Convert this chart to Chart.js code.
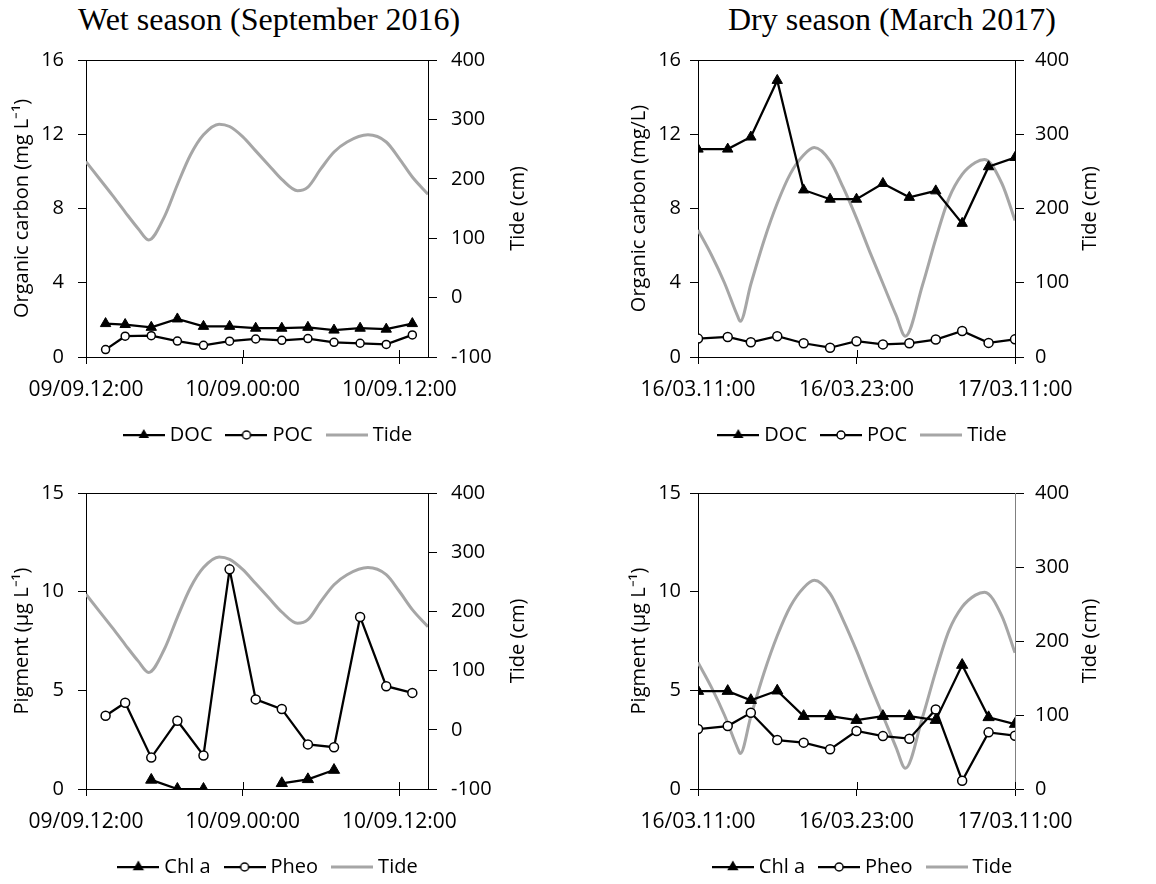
<!DOCTYPE html>
<html>
<head>
<meta charset="utf-8">
<script src="https://cdn.jsdelivr.net/npm/chart.js@4.4.1/dist/chart.umd.min.js"></script>
<style>
  body { margin: 0; background: #fff; width: 1156px; height: 884px; position: relative; overflow: hidden; }
  .season { position: absolute; top: 3px; font-family: "Liberation Serif", "Times New Roman", serif; font-size: 32px; line-height: 32px; color: #000; white-space: nowrap; }
  canvas { position: absolute; }
</style>
</head>
<body>
<div class="season" style="left:78px">Wet season (September 2016)</div>
<div class="season" style="left:728px">Dry season (March 2017)</div>

<canvas id="wetCarbon" width="528" height="421" style="left:6px;top:34px"></canvas>
<canvas id="dryCarbon" width="483" height="418" style="left:623px;top:37px"></canvas>
<canvas id="wetPigment" width="528" height="420" style="left:6px;top:467px"></canvas>
<canvas id="dryPigment" width="483" height="417" style="left:623px;top:470px"></canvas>

<script>
// sampling times, hours after the first x tick
const wetHours = [1.5, 3, 5, 7, 9, 11, 13, 15, 17, 19, 21, 23, 25];
const dryHours = [0, 2.25, 4, 6, 8, 10, 12, 14, 16, 18, 20, 22, 24];

// organic carbon (mg/L)
const wetDoc = [1.8, 1.75, 1.6, 2.05, 1.65, 1.65, 1.55, 1.55, 1.6, 1.45, 1.55, 1.5, 1.8];
const wetPoc = [0.4, 1.12, 1.15, 0.86, 0.63, 0.85, 0.97, 0.9, 0.99, 0.79, 0.74, 0.68, 1.19];
const dryDoc = [11.2, 11.2, 11.85, 14.9, 9.0, 8.5, 8.5, 9.35, 8.6, 8.95, 7.2, 10.25, 10.75];
const dryPoc = [0.99, 1.08, 0.79, 1.12, 0.74, 0.5, 0.85, 0.68, 0.74, 0.94, 1.4, 0.76, 0.95];

// pigments (ug/L)
const wetChl = [null, null, 0.46, 0, 0, null, null, 0.29, 0.49, 0.96, null, null, null];
const wetPheo = [3.71, 4.37, 1.59, 3.46, 1.7, 11.13, 4.54, 4.05, 2.26, 2.12, 8.72, 5.21, 4.87];
const dryChl = [4.96, 4.96, 4.5, 4.98, 3.69, 3.69, 3.49, 3.69, 3.69, 3.49, 6.28, 3.63, 3.29];
const dryPheo = [3.04, 3.19, 3.86, 2.48, 2.35, 2.01, 2.94, 2.68, 2.55, 4.03, 0.42, 2.87, 2.7];

// tide level (cm)
const wetTideHours = [0, 1, 2, 3, 4, 4.8, 6, 7, 8, 9, 10.2, 11, 12, 13, 14, 15, 16.2, 17, 18, 19, 20, 21.6, 23, 24, 25, 26.2];
const wetTide = [229, 201, 173, 144, 116, 97, 136, 190, 240, 274, 292, 288, 271, 247, 223, 199, 180, 186, 217, 245, 262, 274, 262, 234, 203, 174];
const dryTideHours = [0, 1, 2, 3, 3.2, 4, 5, 6, 7, 8, 8.8, 10, 11, 12, 13, 14, 15, 15.7, 17, 18, 19, 20, 21, 21.7, 23, 24];
const dryTide = [171, 138, 100, 55, 48, 98, 157, 207, 247, 272, 282, 264, 228, 187, 142, 99, 56, 28, 97, 159, 214, 246, 262, 266, 234, 184];

// x axis ticks
const wetTickHours = [0, 12, 24];
const wetTickLabels = ['09/09.12:00', '10/09.00:00', '10/09.12:00'];
const dryTickHours = [0, 12, 24];
const dryTickLabels = ['16/03.11:00', '16/03.23:00', '17/03.11:00'];

const TIDE_GREY = '#a6a6a6';
Chart.defaults.font.family = '"Open Sans", sans-serif';
Chart.defaults.font.size = 20;
Chart.defaults.color = '#000';

const pairs = (xs, ys) => xs.map((x, i) => ({ x: x, y: ys[i] }));

// little line-with-marker image used as the legend symbol
function swatch(kind, color, lineWidth, r) {
  const c = document.createElement('canvas');
  c.width = 42;
  c.height = 16;
  const g = c.getContext('2d');
  g.strokeStyle = color;
  g.lineWidth = lineWidth;
  g.beginPath();
  g.moveTo(0, 8);
  g.lineTo(42, 8);
  g.stroke();
  g.lineWidth = 1.5;
  if (kind === 'triangle') {
    g.fillStyle = '#000';
    g.beginPath();
    g.moveTo(21, 8 - r);
    g.lineTo(21 + r * 0.866, 8 + r / 2);
    g.lineTo(21 - r * 0.866, 8 + r / 2);
    g.closePath();
    g.fill();
  } else if (kind === 'circle') {
    g.fillStyle = '#fff';
    g.beginPath();
    g.arc(21, 8, r, 0, Math.PI * 2);
    g.fill();
    g.stroke();
  }
  return c;
}

// inner half of the x ticks and the rotated right-hand axis title
const frameExtras = {
  id: 'frameExtras',
  afterDraw(chart, args, opts) {
    const { ctx, chartArea, scales } = chart;
    ctx.save();
    ctx.strokeStyle = '#000';
    ctx.lineWidth = 1;
    scales.x.ticks.forEach((t) => {
      const px = Math.round(scales.x.getPixelForValue(t.value)) + 0.5;
      ctx.beginPath();
      ctx.moveTo(px, chartArea.bottom);
      ctx.lineTo(px, chartArea.bottom - 7);
      ctx.stroke();
    });
    const s = scales.tide;
    ctx.translate(s.right - 16, (chartArea.top + chartArea.bottom) / 2);
    ctx.rotate(-Math.PI / 2);
    ctx.font = '20px "Open Sans", sans-serif';
    ctx.fillStyle = '#000';
    ctx.textAlign = 'center';
    ctx.textBaseline = 'middle';
    ctx.fillText(opts.rightTitle, 0, 0);
    ctx.restore();
  }
};

function buildPanel(id, p) {
  const datasets = [
    {
      label: p.names[0],
      data: pairs(p.hours, p.first),
      borderColor: '#000',
      backgroundColor: '#000',
      borderWidth: 2.25,
      pointStyle: 'triangle',
      pointRadius: p.tri,
      pointBorderWidth: 1,
      spanGaps: false,
      legendSwatch: swatch('triangle', '#000', 2.25, p.tri)
    },
    {
      label: p.names[1],
      data: pairs(p.hours, p.second),
      borderColor: '#000',
      backgroundColor: '#fff',
      borderWidth: 2.25,
      pointStyle: 'circle',
      pointRadius: p.circ,
      pointBorderWidth: 1.5,
      legendSwatch: swatch('circle', '#000', 2.25, 4)
    },
    {
      label: 'Tide',
      data: pairs(p.tideHours, p.tide),
      yAxisID: 'tide',
      borderColor: TIDE_GREY,
      borderWidth: 3,
      pointRadius: 0,
      cubicInterpolationMode: 'monotone',
      legendSwatch: swatch('line', TIDE_GREY, 3, 0)
    }
  ];

  new Chart(document.getElementById(id), {
    type: 'line',
    data: { datasets: datasets },
    options: {
      responsive: false,
      animation: false,
      devicePixelRatio: 1,
      events: [],
      layout: { padding: 0 },
      plugins: {
        tooltip: { enabled: false },
        frameExtras: { rightTitle: 'Tide (cm)' },
        legend: {
          position: 'bottom',
          labels: {
            usePointStyle: true,
            pointStyleWidth: 32,
            padding: 18,
            font: { size: 20 },
            generateLabels: (chart) => chart.data.datasets.map((ds, i) => ({
              text: ds.label,
              pointStyle: ds.legendSwatch,
              datasetIndex: i,
              hidden: false,
              lineWidth: 0,
              fillStyle: 'transparent',
              strokeStyle: 'transparent',
              fontColor: '#000'
            }))
          }
        }
      },
      scales: {
        x: {
          type: 'linear',
          min: 0,
          max: p.xMax,
          afterBuildTicks: (s) => { s.ticks = p.tickHours.map((v) => ({ value: v })); },
          afterFit: (s) => { s.height = 50; },
          ticks: {
            autoSkip: false,
            maxRotation: 0,
            padding: 13,
            font: { size: 21 },
            callback: (v, i) => p.tickLabels[i]
          },
          grid: { drawOnChartArea: false, color: 'transparent', tickColor: '#000', tickLength: 7 },
          border: { color: '#000', width: 1 }
        },
        y: {
          position: 'left',
          min: 0,
          max: p.yMax,
          afterFit: (s) => { s.width = p.leftWidth; },
          ticks: { stepSize: p.yStep, padding: p.leftPad },
          grid: {
            color: (c) => (c.tick && c.tick.value === p.yMax ? '#000' : 'transparent'),
            tickColor: '#000',
            tickLength: 8
          },
          border: { color: '#000', width: 1 },
          title: { display: true, text: p.yTitle, font: { size: 20 }, padding: { top: 4, bottom: 0 } }
        },
        tide: {
          position: 'right',
          min: p.tideMin,
          max: 400,
          afterFit: (s) => { s.width = p.rightWidth; },
          ticks: { stepSize: 100, padding: p.rightPad },
          grid: { drawOnChartArea: false, tickColor: '#000', tickLength: 9 },
          border: { color: p.rightBorder, width: 1 }
        }
      }
    },
    plugins: [frameExtras]
  });
}

const wetFrame = { hours: wetHours, tideHours: wetTideHours, tide: wetTide, xMax: 26.2,
  tickHours: wetTickHours, tickLabels: wetTickLabels, leftWidth: 80, rightWidth: 106,
  leftPad: 14, rightPad: 14, tideMin: -100, rightBorder: '#000' };
const dryFrame = { hours: dryHours, tideHours: dryTideHours, tide: dryTide, xMax: 24,
  tickHours: dryTickHours, tickLabels: dryTickLabels, leftWidth: 75, rightWidth: 91,
  leftPad: 9, rightPad: 11, tideMin: 0, rightBorder: '#000' };

buildPanel('wetCarbon', Object.assign({}, wetFrame, {
  names: ['DOC', 'POC'], first: wetDoc, second: wetPoc, yMax: 16, yStep: 4,
  yTitle: 'Organic carbon (mg L⁻¹)', tri: 6, circ: 4
}));
buildPanel('dryCarbon', Object.assign({}, dryFrame, {
  names: ['DOC', 'POC'], first: dryDoc, second: dryPoc, yMax: 16, yStep: 4,
  yTitle: 'Organic carbon (mg/L)', tri: 6, circ: 4.5
}));
buildPanel('wetPigment', Object.assign({}, wetFrame, {
  names: ['Chl a', 'Pheo'], first: wetChl, second: wetPheo, yMax: 15, yStep: 5,
  yTitle: 'Pigment (µg L⁻¹)', tri: 6.5, circ: 4.5
}));
buildPanel('dryPigment', Object.assign({}, dryFrame, {
  names: ['Chl a', 'Pheo'], first: dryChl, second: dryPheo, yMax: 15, yStep: 5,
  yTitle: 'Pigment (µg L⁻¹)', tri: 6.5, circ: 4.5, rightBorder: '#808080'
}));
</script>
</body>
</html>
